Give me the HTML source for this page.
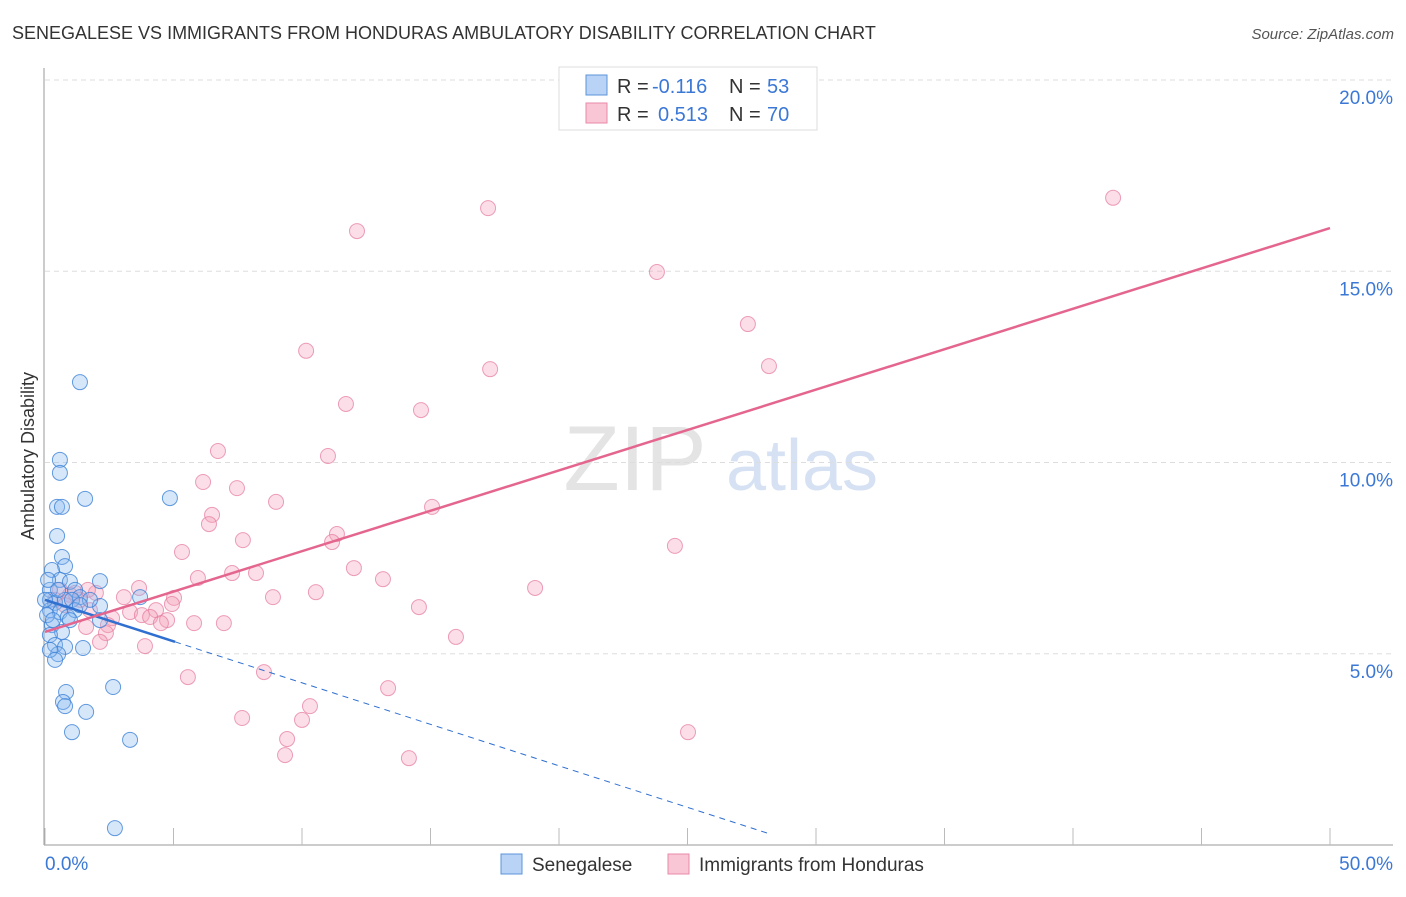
<!DOCTYPE html>
<html><head><meta charset="utf-8"><style>
body{margin:0;background:#fff;font-family:"Liberation Sans",sans-serif;}
svg text{font-family:"Liberation Sans",sans-serif;}
</style></head><body>
<svg id="chart" width="1406" height="892" xmlns="http://www.w3.org/2000/svg">
<text x="12" y="39" font-size="18" fill="#333">SENEGALESE VS IMMIGRANTS FROM HONDURAS AMBULATORY DISABILITY CORRELATION CHART</text>
<text x="1394" y="39" font-size="15" fill="#555" text-anchor="end" font-style="italic">Source: ZipAtlas.com</text>
<g>
<text x="635" y="490" font-size="92" fill="#e4e4e4" font-family="Liberation Serif" text-anchor="middle">ZIP</text>
<text x="802" y="490" font-size="72" fill="#d6e2f3" text-anchor="middle">atlas</text>
</g>
<g id="grid"></g><g id="axes"></g><g id="marks"></g>
<g>
<rect x="559" y="67" width="258" height="63" fill="#fff" stroke="#ddd"/>
<rect x="586" y="75" width="21" height="20" fill="#b8d3f5" stroke="#5b95db"/>
<rect x="586" y="103" width="21" height="20" fill="#f9c6d5" stroke="#e98aa8"/>
<text x="617" y="93" font-size="20" fill="#333">R = </text><text x="652" y="93" font-size="20" fill="#3b78d6">-0.116</text>
<text x="729" y="93" font-size="20" fill="#333">N = </text><text x="767" y="93" font-size="20" fill="#3b78d6">53</text>
<text x="617" y="121" font-size="20" fill="#333">R = </text><text x="658" y="121" font-size="20" fill="#3b78d6">0.513</text>
<text x="729" y="121" font-size="20" fill="#333">N = </text><text x="767" y="121" font-size="20" fill="#3b78d6">70</text>
</g>
<g>
<rect x="501" y="854" width="21" height="20" fill="#b8d3f5" stroke="#5b95db"/>
<text x="532" y="871" font-size="19" fill="#333">Senegalese</text>
<rect x="668" y="854" width="21" height="20" fill="#f9c6d5" stroke="#e98aa8"/>
<text x="699" y="871" font-size="19" fill="#333">Immigrants from Honduras</text>
</g>
<text transform="translate(34,456) rotate(-90)" font-size="18" fill="#333" text-anchor="middle">Ambulatory Disability</text>
</svg>
<script>
const yTicks=[5,10,15,20];
const yTickLabels=["5.0%","10.0%","15.0%","20.0%"];
const xTicks=[0,5,10,15,20,25,30,35,40,45,50];
const blueX=[1.36,0.58,0.58,1.56,4.86,0.47,0.66,0.47,0.66,0.78,0.27,2.14,0.58,0.97,0.19,1.17,1.36,3.7,0.19,0.39,0.78,1.05,2.14,0.19,0.58,0.89,2.14,0.27,0.66,0.19,0.39,0.78,0.51,1.48,0.82,2.65,0.7,0.78,1.6,1.05,3.31,2.72,0.12,0.08,0.31,0.51,1.17,1.75,0.19,0.97,0.39,0.0,1.36];
const blueY=[12.1,10.07,9.73,9.05,9.07,8.84,8.84,8.08,7.53,7.29,7.19,6.9,6.93,6.88,6.67,6.67,6.48,6.48,6.41,6.33,6.41,6.41,6.25,6.14,6.09,5.96,5.88,5.75,5.57,5.49,5.23,5.18,4.99,5.15,4.0,4.13,3.74,3.63,3.48,2.95,2.75,0.44,6.93,6.01,5.88,6.67,6.14,6.41,5.1,5.88,4.84,6.41,6.27];
const pinkX=[41.56,17.24,12.14,23.81,27.35,10.16,28.17,17.32,11.71,14.63,6.73,11.01,6.15,7.47,8.99,15.06,6.5,6.38,7.7,11.36,11.17,24.51,5.33,12.02,7.28,8.21,5.95,13.15,10.54,19.07,3.66,8.87,5.02,4.94,3.07,1.98,1.67,14.55,4.32,3.31,3.77,2.61,4.09,4.75,4.51,5.8,6.96,2.45,1.6,2.37,2.14,3.89,15.99,8.52,5.56,13.35,10.31,7.67,10.0,9.42,25.02,9.34,14.16,0.58,0.97,1.36,0.39,0.78,1.17,1.75];
const pinkY=[16.92,16.65,16.05,14.98,13.62,12.92,12.52,12.44,11.53,11.37,10.3,10.17,9.49,9.33,8.97,8.84,8.63,8.39,7.97,8.13,7.92,7.82,7.66,7.24,7.11,7.11,6.98,6.95,6.61,6.72,6.72,6.48,6.46,6.3,6.48,6.59,6.67,6.22,6.14,6.09,6.01,5.93,5.96,5.88,5.8,5.8,5.8,5.75,5.7,5.54,5.31,5.2,5.44,4.52,4.39,4.1,3.63,3.32,3.27,2.77,2.95,2.35,2.27,6.67,6.54,6.41,6.41,6.27,6.59,6.14];
const blueTrend=[0,6.41,28.2,0.29]; // x0,y0,x1,y1 (solid until 5.06)
const blueSolidEnd=5.06;
const pinkTrend=[0,5.57,50,16.13];
const X=v=>45+v*25.7, Y=v=>845-v*38.25;
const NS="http://www.w3.org/2000/svg";
function mk(p,t,a){const e=document.createElementNS(NS,t);for(const k in a)e.setAttribute(k,a[k]);p.appendChild(e);return e;}
const grid=document.getElementById('grid'),axes=document.getElementById('axes'),marks=document.getElementById('marks');
yTicks.forEach((t,i)=>{
 const l=mk(grid,'line',{x1:45,x2:1393,y1:Y(t),y2:Y(t),stroke:'#ddd','stroke-dasharray':'5,4'});
 
 
 const tx=mk(axes,'text',{x:1393,y:Y(t)+24,'font-size':19,fill:'#3b78d6','text-anchor':'end'});
 tx.textContent=yTickLabels[i];
 
 
});
const ya=mk(axes,'line',{x1:44,x2:44,y1:68,y2:845,stroke:'#999'});


const xa=mk(axes,'line',{x1:44,x2:1393,y1:845,y2:845,stroke:'#999'});


xTicks.forEach(t=>{const l=mk(axes,'line',{x1:X(t),x2:X(t),y1:828,y2:845,stroke:'#bbb'});
 
 });
const x0=mk(axes,'text',{x:45,y:870,'font-size':19,fill:'#3b78d6'});x0.textContent='0.0%';


const x1=mk(axes,'text',{x:1393,y:870,'font-size':19,fill:'#3b78d6','text-anchor':'end'});x1.textContent='50.0%';


pinkX.forEach((v,i)=>{const c=mk(marks,'circle',{cx:X(v),cy:Y(pinkY[i]),r:7.5,fill:'rgba(244,160,186,0.35)',stroke:'rgba(230,120,155,0.7)','stroke-width':1});
 
 });
blueX.forEach((v,i)=>{const c=mk(marks,'circle',{cx:X(v),cy:Y(blueY[i]),r:7.5,fill:'rgba(140,185,240,0.35)',stroke:'rgba(60,130,215,0.8)','stroke-width':1});
 
 });
const bs=(blueTrend[3]-blueTrend[1])/(blueTrend[2]-blueTrend[0]);
const bl=mk(marks,'line',{x1:X(blueTrend[0]),y1:Y(blueTrend[1]),x2:X(blueSolidEnd),y2:Y(blueTrend[1]+bs*(blueSolidEnd-blueTrend[0])),stroke:'#2f6fd0','stroke-width':2.5});


const bd=mk(marks,'line',{x1:X(blueSolidEnd),y1:Y(blueTrend[1]+bs*(blueSolidEnd-blueTrend[0])),x2:X(blueTrend[2]),y2:Y(blueTrend[3]),stroke:'#2f6fd0','stroke-width':1,'stroke-dasharray':'6,5'});


const pl=mk(marks,'line',{x1:X(pinkTrend[0]),y1:Y(pinkTrend[1]),x2:X(pinkTrend[2]),y2:Y(pinkTrend[3]),stroke:'#e4668f','stroke-width':2.5});


</script>
</body></html>
